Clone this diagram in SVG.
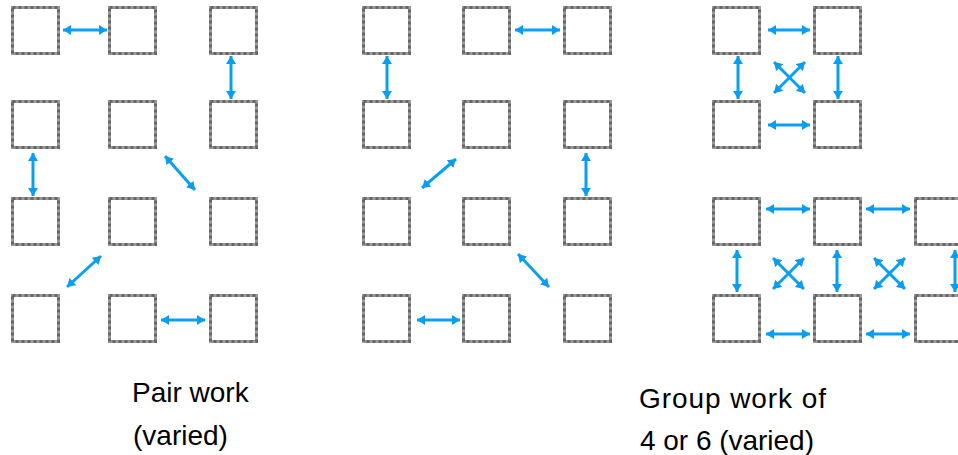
<svg xmlns="http://www.w3.org/2000/svg" xmlns:xlink="http://www.w3.org/1999/xlink" width="958" height="455" viewBox="0 0 958 455">
<style>
.base{fill:#fff;stroke:#9a9a9a;stroke-width:3}
.dash{fill:none;stroke:#666;stroke-width:3;stroke-dasharray:3 3}
.arr{stroke:#0aa0f0;stroke-width:3;fill:none;marker-start:url(#ah);marker-end:url(#ah)}
.lbl{font-family:"Liberation Sans",Arial,sans-serif;font-size:28px;fill:#000}
</style>
<defs>
<marker id="ah" viewBox="0 0 8 10" refX="8" refY="5" markerWidth="8" markerHeight="11" markerUnits="userSpaceOnUse" orient="auto-start-reverse">
<path d="M0,0 L8,5 L0,10 z" fill="#0a9cf0"/>
</marker>
<g id="desk">
<rect class="base" x="1.5" y="1.5" width="46" height="46"/>
<rect class="dash" x="1.5" y="1.5" width="46" height="46"/>
</g>
</defs>
<rect width="958" height="455" fill="#fff"/>
<g id="pair-a">
<g id="p1r1c1"><use xlink:href="#desk" x="11" y="6"/></g>
<g id="p1r1c2"><use xlink:href="#desk" x="108" y="6"/></g>
<g id="p1r1c3"><use xlink:href="#desk" x="209" y="6"/></g>
<g id="p1r2c1"><use xlink:href="#desk" x="11" y="100"/></g>
<g id="p1r2c2"><use xlink:href="#desk" x="108" y="100"/></g>
<g id="p1r2c3"><use xlink:href="#desk" x="209" y="100"/></g>
<g id="p1r3c1"><use xlink:href="#desk" x="11" y="197"/></g>
<g id="p1r3c2"><use xlink:href="#desk" x="108" y="197"/></g>
<g id="p1r3c3"><use xlink:href="#desk" x="209" y="197"/></g>
<g id="p1r4c1"><use xlink:href="#desk" x="11" y="294"/></g>
<g id="p1r4c2"><use xlink:href="#desk" x="108" y="294"/></g>
<g id="p1r4c3"><use xlink:href="#desk" x="209" y="294"/></g>
</g>
<g id="pair-b">
<g id="p2r1c1"><use xlink:href="#desk" x="362" y="6"/></g>
<g id="p2r1c2"><use xlink:href="#desk" x="462" y="6"/></g>
<g id="p2r1c3"><use xlink:href="#desk" x="563" y="6"/></g>
<g id="p2r2c1"><use xlink:href="#desk" x="362" y="100"/></g>
<g id="p2r2c2"><use xlink:href="#desk" x="462" y="100"/></g>
<g id="p2r2c3"><use xlink:href="#desk" x="563" y="100"/></g>
<g id="p2r3c1"><use xlink:href="#desk" x="362" y="197"/></g>
<g id="p2r3c2"><use xlink:href="#desk" x="462" y="197"/></g>
<g id="p2r3c3"><use xlink:href="#desk" x="563" y="197"/></g>
<g id="p2r4c1"><use xlink:href="#desk" x="362" y="294"/></g>
<g id="p2r4c2"><use xlink:href="#desk" x="462" y="294"/></g>
<g id="p2r4c3"><use xlink:href="#desk" x="563" y="294"/></g>
</g>
<g id="group">
<g id="g4a"><use xlink:href="#desk" x="712" y="6"/></g>
<g id="g4b"><use xlink:href="#desk" x="813" y="6"/></g>
<g id="g4c"><use xlink:href="#desk" x="712" y="100"/></g>
<g id="g4d"><use xlink:href="#desk" x="813" y="100"/></g>
<g id="g6a"><use xlink:href="#desk" x="712" y="197"/></g>
<g id="g6b"><use xlink:href="#desk" x="813" y="197"/></g>
<g id="g6c"><use xlink:href="#desk" x="914" y="197"/></g>
<g id="g6d"><use xlink:href="#desk" x="712" y="294"/></g>
<g id="g6e"><use xlink:href="#desk" x="813" y="294"/></g>
<g id="g6f"><use xlink:href="#desk" x="914" y="294"/></g>
</g>
<g id="connectors">
<line class="arr" x1="63" y1="30" x2="107" y2="30"/>
<line class="arr" x1="231" y1="56" x2="231" y2="99"/>
<line class="arr" x1="33" y1="153" x2="33" y2="196"/>
<line class="arr" x1="165" y1="156" x2="195" y2="190"/>
<line class="arr" x1="67" y1="287" x2="101" y2="256"/>
<line class="arr" x1="161" y1="320" x2="205" y2="320"/>

<line class="arr" x1="515" y1="30" x2="560" y2="30"/>
<line class="arr" x1="387" y1="56" x2="387" y2="99"/>
<line class="arr" x1="422" y1="188" x2="456" y2="159"/>
<line class="arr" x1="586" y1="153" x2="586" y2="196"/>
<line class="arr" x1="518" y1="254" x2="549" y2="287"/>
<line class="arr" x1="417" y1="320" x2="460" y2="320"/>

<line class="arr" x1="768" y1="30" x2="810" y2="30"/>
<line class="arr" x1="768" y1="125" x2="810" y2="125"/>
<line class="arr" x1="738" y1="56" x2="738" y2="99"/>
<line class="arr" x1="838" y1="56" x2="838" y2="99"/>
<line class="arr" x1="774" y1="62" x2="805" y2="93"/>
<line class="arr" x1="805" y1="62" x2="774" y2="93"/>

<line class="arr" x1="766" y1="209" x2="810" y2="209"/>
<line class="arr" x1="866" y1="209" x2="910" y2="209"/>
<line class="arr" x1="766" y1="334" x2="810" y2="334"/>
<line class="arr" x1="866" y1="334" x2="910" y2="334"/>
<line class="arr" x1="737" y1="250" x2="737" y2="292"/>
<line class="arr" x1="837" y1="250" x2="837" y2="292"/>
<line class="arr" x1="955" y1="250" x2="955" y2="292"/>
<line class="arr" x1="773" y1="258" x2="804" y2="289"/>
<line class="arr" x1="804" y1="258" x2="773" y2="289"/>
<line class="arr" x1="874" y1="258" x2="905" y2="289"/>
<line class="arr" x1="905" y1="258" x2="874" y2="289"/>
</g>
<g id="labels">
<text class="lbl" x="132" y="402">Pair work</text>
<text class="lbl" x="133" y="445">(varied)</text>
<text class="lbl" x="639" y="408" textLength="187" lengthAdjust="spacing">Group work of</text>
<text class="lbl" x="640" y="450" textLength="174" lengthAdjust="spacing">4 or 6 (varied)</text>
</g>
</svg>
